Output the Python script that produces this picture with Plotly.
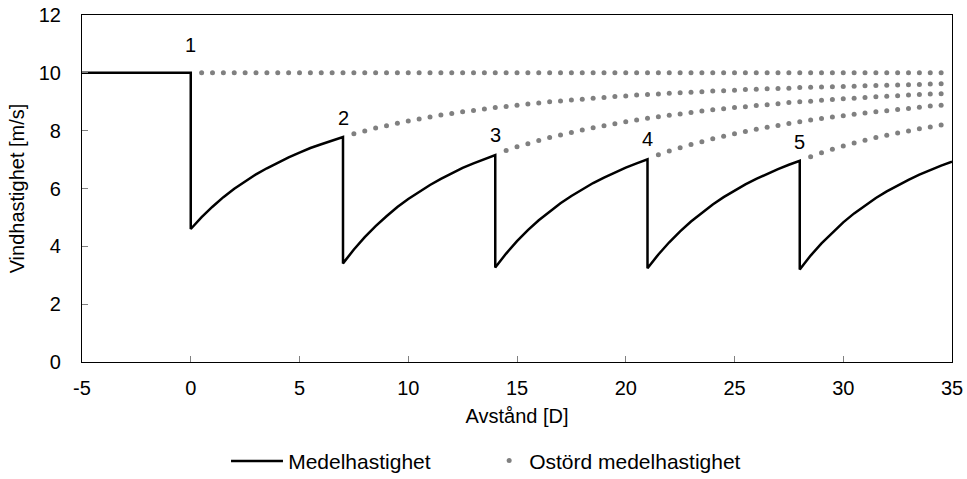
import plotly.graph_objects as go

# ---------------- data ----------------
main_x = [-5, 0,
          0, 0.5, 1, 1.5, 2, 2.5, 3, 3.5, 4, 4.5, 5, 5.5, 6, 6.5, 7,
          7, 7.5, 8, 8.5, 9, 9.5, 10, 10.5, 11, 11.5, 12, 12.5, 13, 13.5, 14,
          14, 14.5, 15, 15.5, 16, 16.5, 17, 17.5, 18, 18.5, 19, 19.5, 20, 20.5, 21,
          21, 21.5, 22, 22.5, 23, 23.5, 24, 24.5, 25, 25.5, 26, 26.5, 27, 27.5, 28,
          28, 28.5, 29, 29.5, 30, 30.5, 31, 31.5, 32, 32.5, 33, 33.5, 34, 34.5, 35]
main_y = [10, 10,
          4.60, 5.01, 5.37, 5.70, 5.99, 6.25, 6.49, 6.70, 6.90, 7.08, 7.24, 7.40, 7.53, 7.66, 7.78,
          3.41, 3.89, 4.32, 4.70, 5.04, 5.36, 5.64, 5.89, 6.12, 6.33, 6.53, 6.71, 6.87, 7.02, 7.16,
          3.27, 3.75, 4.18, 4.56, 4.90, 5.21, 5.49, 5.74, 5.98, 6.19, 6.38, 6.56, 6.72, 6.87, 7.01,
          3.24, 3.72, 4.14, 4.52, 4.86, 5.17, 5.45, 5.70, 5.93, 6.14, 6.33, 6.51, 6.67, 6.82, 6.96,
          3.20, 3.68, 4.10, 4.48, 4.83, 5.14, 5.41, 5.67, 5.90, 6.11, 6.30, 6.48, 6.64, 6.79, 6.93]

free1_x = [0.5, 1, 1.5, 2, 2.5, 3, 3.5, 4, 4.5, 5, 5.5, 6, 6.5, 7, 7.5, 8, 8.5, 9, 9.5, 10,
           10.5, 11, 11.5, 12, 12.5, 13, 13.5, 14, 14.5, 15, 15.5, 16, 16.5, 17, 17.5, 18,
           18.5, 19, 19.5, 20, 20.5, 21, 21.5, 22, 22.5, 23, 23.5, 24, 24.5, 25, 25.5, 26,
           26.5, 27, 27.5, 28, 28.5, 29, 29.5, 30, 30.5, 31, 31.5, 32, 32.5, 33, 33.5, 34, 34.5]
free1_y = [10, 10, 10, 10, 10, 10, 10, 10, 10, 10, 10, 10, 10, 10, 10, 10, 10, 10, 10, 10,
           10, 10, 10, 10, 10, 10, 10, 10, 10, 10, 10, 10, 10, 10, 10, 10,
           10, 10, 10, 10, 10, 10, 10, 10, 10, 10, 10, 10, 10, 10, 10, 10,
           10, 10, 10, 10, 10, 10, 10, 10, 10, 10, 10, 10, 10, 10, 10, 10, 10]

free2_x = [7.5, 8, 8.5, 9, 9.5, 10, 10.5, 11, 11.5, 12, 12.5, 13, 13.5, 14, 14.5, 15, 15.5,
           16, 16.5, 17, 17.5, 18, 18.5, 19, 19.5, 20, 20.5, 21, 21.5, 22, 22.5, 23, 23.5,
           24, 24.5, 25, 25.5, 26, 26.5, 27, 27.5, 28, 28.5, 29, 29.5, 30, 30.5, 31, 31.5,
           32, 32.5, 33, 33.5, 34, 34.5]
free2_y = [7.89, 7.99, 8.09, 8.17, 8.26, 8.33, 8.40, 8.47, 8.54, 8.59, 8.65, 8.70, 8.75, 8.80,
           8.84, 8.88, 8.92, 8.96, 9.00, 9.03, 9.06, 9.09, 9.12, 9.15, 9.18, 9.20, 9.23, 9.25,
           9.27, 9.29, 9.31, 9.33, 9.35, 9.37, 9.38, 9.40, 9.42, 9.43, 9.45, 9.46, 9.47, 9.49,
           9.50, 9.51, 9.52, 9.53, 9.54, 9.55, 9.56, 9.57, 9.58, 9.59, 9.60, 9.61, 9.62]

free3_x = [14.5, 15, 15.5, 16, 16.5, 17, 17.5, 18, 18.5, 19, 19.5, 20, 20.5, 21, 21.5, 22,
           22.5, 23, 23.5, 24, 24.5, 25, 25.5, 26, 26.5, 27, 27.5, 28, 28.5, 29, 29.5, 30,
           30.5, 31, 31.5, 32, 32.5, 33, 33.5, 34, 34.5]
free3_y = [7.31, 7.44, 7.55, 7.66, 7.76, 7.85, 7.94, 8.02, 8.10, 8.17, 8.24, 8.31, 8.37, 8.43,
           8.48, 8.53, 8.58, 8.63, 8.68, 8.72, 8.76, 8.80, 8.83, 8.87, 8.90, 8.93, 8.97, 9.00,
           9.02, 9.05, 9.08, 9.10, 9.12, 9.15, 9.17, 9.19, 9.21, 9.23, 9.25, 9.27, 9.28]

free4_x = [21.5, 22, 22.5, 23, 23.5, 24, 24.5, 25, 25.5, 26, 26.5, 27, 27.5, 28, 28.5, 29,
           29.5, 30, 30.5, 31, 31.5, 32, 32.5, 33, 33.5, 34, 34.5]
free4_y = [7.17, 7.30, 7.41, 7.52, 7.62, 7.72, 7.81, 7.89, 7.97, 8.05, 8.12, 8.18, 8.25, 8.31,
           8.37, 8.42, 8.47, 8.52, 8.57, 8.61, 8.65, 8.69, 8.73, 8.77, 8.81, 8.85, 8.88]

free5_x = [28.5, 29, 29.5, 30, 30.5, 31, 31.5, 32, 32.5, 33, 33.5, 34, 34.5]
free5_y = [7.10, 7.24, 7.36, 7.47, 7.57, 7.67, 7.76, 7.84, 7.92, 7.99, 8.07, 8.13, 8.20]

label_x = [0, 7, 14, 21, 28]
label_y = [10.95, 8.45, 7.85, 7.7, 7.6]
label_text = ["1", "2", "3", "4", "5"]

x_ticks = [-5, 0, 5, 10, 15, 20, 25, 30, 35]
x_tick_text = ["-5", "0", "5", "10", "15", "20", "25", "30", "35"]
y_ticks = [0, 2, 4, 6, 8, 10, 12]

# ---------------- figure ----------------
FONT = "Liberation Sans, Arial, sans-serif"
GRAY = "#808080"
LEG_Y = -0.285

fig = go.Figure()
fig.add_trace(go.Scatter(x=main_x, y=main_y, mode="lines", name="Medelhastighet",
                         line=dict(color="black", width=2.5), showlegend=False))
# legend entry for the solid line: text from the legend, long swatch drawn as a shape
fig.add_trace(go.Scatter(x=[None], y=[None], mode="lines", name="Medelhastighet",
                         line=dict(color="rgba(0,0,0,0)", width=2.5), legend="legend"))
free_sets = [(free1_x, free1_y), (free2_x, free2_y), (free3_x, free3_y),
             (free4_x, free4_y), (free5_x, free5_y)]
for i, (fx, fy) in enumerate(free_sets):
    fig.add_trace(go.Scatter(x=fx, y=fy, mode="markers", name="Ostörd medelhastighet",
                             marker=dict(color=GRAY, size=5), showlegend=(i == 0),
                             legend="legend2"))

for lx, ly, lt in zip(label_x, label_y, label_text):
    fig.add_annotation(x=lx, y=ly, text=lt, showarrow=False,
                       font=dict(family=FONT, size=20, color="black"))

fig.add_shape(type="line", xref="paper", yref="paper",
              x0=0.1713, x1=0.2310, y0=LEG_Y, y1=LEG_Y,
              line=dict(color="black", width=2.5))

legend_font = dict(family=FONT, size=21, color="black")
fig.update_layout(
    width=967, height=479,
    margin=dict(l=82, r=15, t=15, b=117, autoexpand=False),
    paper_bgcolor="white", plot_bgcolor="white",
    font=dict(family=FONT, size=20, color="black"),
    showlegend=True,
    legend=dict(orientation="h", x=0.191, xanchor="left", y=LEG_Y, yanchor="middle",
                font=legend_font, bgcolor="rgba(0,0,0,0)"),
    legend2=dict(orientation="h", x=0.468, xanchor="left", y=LEG_Y, yanchor="middle",
                 font=legend_font, bgcolor="rgba(0,0,0,0)"),
)
fig.update_xaxes(range=[-5, 35], tickvals=x_ticks, ticktext=x_tick_text,
                 ticks="inside", ticklen=6, automargin=False,
                 tickcolor=GRAY, showline=True, linecolor="black", linewidth=1.2,
                 mirror=True, showgrid=False, zeroline=False, ticklabelstandoff=8,
                 title=dict(text="Avstånd [D]", standoff=10,
                            font=dict(family=FONT, size=20)))
fig.update_yaxes(range=[0, 12], tickvals=y_ticks, ticks="inside", ticklen=6,
                 automargin=False,
                 tickcolor=GRAY, showline=True, linecolor="black", linewidth=1.2,
                 mirror=True, showgrid=False, zeroline=False, ticklabelstandoff=16,
                 title=dict(text="Vindhastighet [m/s]", standoff=8,
                            font=dict(family=FONT, size=20)))

fig.write_html("out.html", config={"displayModeBar": False},
               post_script="document.body.style.margin='0';document.body.style.overflow='hidden';")
